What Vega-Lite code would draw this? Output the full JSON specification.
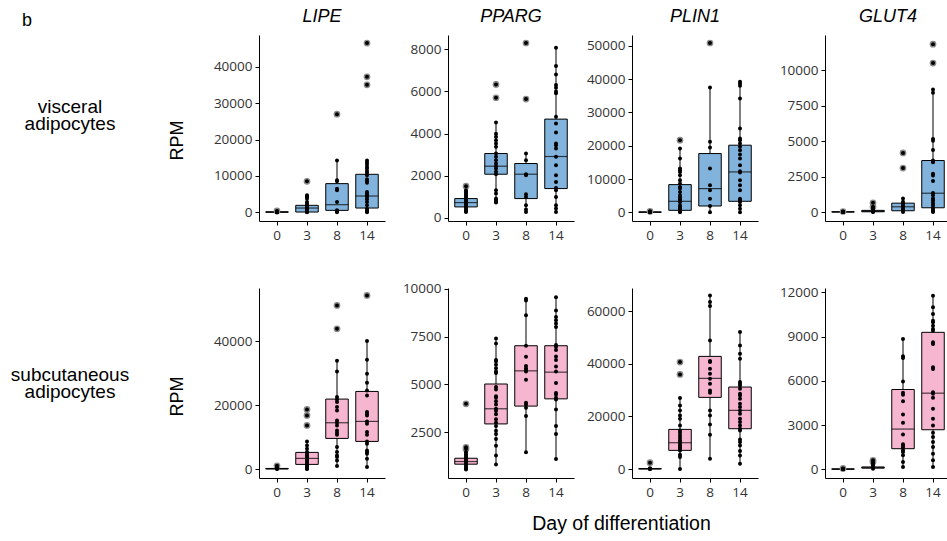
{
"$schema": "https://vega.github.io/schema/vega-lite/v6.json",
"background": "white",
"padding": {"left": 0, "top": 8, "right": 0, "bottom": 4},
"config": {
 "view": {"stroke": null},
 "axis": {"grid": false, "domainColor": "black", "domainWidth": 1, "tickColor": "black", "tickWidth": 1, "tickSize": 4, "labelFont": "Open Sans", "labelFontSize": 13.5, "labelColor": "#333333", "labelPadding": 3, "titleFont": "Liberation Sans", "titleFontSize": 18, "titleFontWeight": "normal", "titleColor": "black"},
 "title": {"font": "Liberation Sans", "fontSize": 18, "fontWeight": "normal", "fontStyle": "italic", "color": "black", "offset": 9, "frame": "group"}
},
"datasets": {
 "box": [
  {"p":"Lv","d":0,"lo":0,"q1":40,"md":90,"q3":150,"hi":250},
  {"p":"Lv","d":3,"lo":0,"q1":90,"md":1190,"q3":1930,"hi":4680},
  {"p":"Lv","d":8,"lo":0,"q1":550,"md":2110,"q3":7890,"hi":14210},
  {"p":"Lv","d":14,"lo":0,"q1":1190,"md":4490,"q3":10450,"hi":14210},
  {"p":"Pv","d":0,"lo":285,"q1":523,"md":729,"q3":919,"hi":1315},
  {"p":"Pv","d":3,"lo":729,"q1":2075,"md":2455,"q3":3057,"hi":4530},
  {"p":"Pv","d":8,"lo":285,"q1":919,"md":2075,"q3":2582,"hi":3057},
  {"p":"Pv","d":14,"lo":285,"q1":1394,"md":2915,"q3":4689,"hi":8078},
  {"p":"Nv","d":0,"lo":0,"q1":20,"md":60,"q3":120,"hi":200},
  {"p":"Nv","d":3,"lo":0,"q1":601,"md":3307,"q3":8317,"hi":19138},
  {"p":"Nv","d":8,"lo":0,"q1":1904,"md":7114,"q3":17635,"hi":37475},
  {"p":"Nv","d":14,"lo":0,"q1":3307,"md":12124,"q3":20140,"hi":39178},
  {"p":"Gv","d":0,"lo":0,"q1":5,"md":10,"q3":20,"hi":30},
  {"p":"Gv","d":3,"lo":0,"q1":20,"md":50,"q3":120,"hi":250},
  {"p":"Gv","d":8,"lo":0,"q1":93,"md":373,"q3":629,"hi":956},
  {"p":"Gv","d":14,"lo":0,"q1":303,"md":1329,"q3":3636,"hi":8648},
  {"p":"Ls","d":0,"lo":0,"q1":50,"md":100,"q3":200,"hi":313},
  {"p":"Ls","d":3,"lo":0,"q1":1462,"md":3342,"q3":5222,"hi":8669},
  {"p":"Ls","d":8,"lo":940,"q1":9608,"md":14517,"q3":21932,"hi":33943},
  {"p":"Ls","d":14,"lo":627,"q1":8669,"md":14935,"q3":24334,"hi":40105},
  {"p":"Ps","d":0,"lo":548,"q1":824,"md":962,"q3":1135,"hi":1446},
  {"p":"Ps","d":3,"lo":807,"q1":2932,"md":3726,"q3":5022,"hi":7408},
  {"p":"Ps","d":8,"lo":1446,"q1":3865,"md":5712,"q3":7026,"hi":9481},
  {"p":"Ps","d":14,"lo":1101,"q1":4245,"md":5643,"q3":7026,"hi":9567},
  {"p":"Ns","d":0,"lo":0,"q1":30,"md":80,"q3":200,"hi":400},
  {"p":"Ns","d":3,"lo":0,"q1":7089,"md":10000,"q3":15063,"hi":26962},
  {"p":"Ns","d":8,"lo":3924,"q1":27215,"md":34430,"q3":42785,"hi":65948},
  {"p":"Ns","d":14,"lo":2025,"q1":15316,"md":22278,"q3":31139,"hi":52025},
  {"p":"Gs","d":0,"lo":0,"q1":5,"md":15,"q3":25,"hi":40},
  {"p":"Gs","d":3,"lo":45,"q1":80,"md":110,"q3":160,"hi":383},
  {"p":"Gs","d":8,"lo":158,"q1":1398,"md":2729,"q3":5414,"hi":8844},
  {"p":"Gs","d":14,"lo":158,"q1":2684,"md":5165,"q3":9293,"hi":11776}
 ],
 "pts": [
  {"p":"Lv","d":0,"v":0},{"p":"Lv","d":0,"v":20},{"p":"Lv","d":0,"v":50},{"p":"Lv","d":0,"v":80},{"p":"Lv","d":0,"v":120},{"p":"Lv","d":0,"v":150},{"p":"Lv","d":0,"v":200},{"p":"Lv","d":0,"v":250},{"p":"Lv","d":0,"v":400,"o":1},
  {"p":"Lv","d":3,"v":4677},{"p":"Lv","d":3,"v":4400},{"p":"Lv","d":3,"v":4218},{"p":"Lv","d":3,"v":3760},{"p":"Lv","d":3,"v":2843},{"p":"Lv","d":3,"v":2400},{"p":"Lv","d":3,"v":1926},{"p":"Lv","d":3,"v":1467},{"p":"Lv","d":3,"v":1200},{"p":"Lv","d":3,"v":1009},{"p":"Lv","d":3,"v":700},{"p":"Lv","d":3,"v":550},{"p":"Lv","d":3,"v":275},{"p":"Lv","d":3,"v":92},{"p":"Lv","d":3,"v":0},{"p":"Lv","d":3,"v":8528,"o":1},
  {"p":"Lv","d":8,"v":14214},{"p":"Lv","d":8,"v":8803},{"p":"Lv","d":8,"v":8528},{"p":"Lv","d":8,"v":6511},{"p":"Lv","d":8,"v":6052},{"p":"Lv","d":8,"v":2843},{"p":"Lv","d":8,"v":550},{"p":"Lv","d":8,"v":275},{"p":"Lv","d":8,"v":0},{"p":"Lv","d":8,"v":26960,"o":1},
  {"p":"Lv","d":14,"v":14214},{"p":"Lv","d":14,"v":13663},{"p":"Lv","d":14,"v":13113},{"p":"Lv","d":14,"v":12471},{"p":"Lv","d":14,"v":12013},{"p":"Lv","d":14,"v":11371},{"p":"Lv","d":14,"v":10912},{"p":"Lv","d":14,"v":10179},{"p":"Lv","d":14,"v":9079},{"p":"Lv","d":14,"v":8528},{"p":"Lv","d":14,"v":8161},{"p":"Lv","d":14,"v":5594},{"p":"Lv","d":14,"v":5135},{"p":"Lv","d":14,"v":4677},{"p":"Lv","d":14,"v":4218},{"p":"Lv","d":14,"v":3576},{"p":"Lv","d":14,"v":2843},{"p":"Lv","d":14,"v":1926},{"p":"Lv","d":14,"v":1009},{"p":"Lv","d":14,"v":550},{"p":"Lv","d":14,"v":275},{"p":"Lv","d":14,"v":0},{"p":"Lv","d":14,"v":46492,"o":1},{"p":"Lv","d":14,"v":37230,"o":1},{"p":"Lv","d":14,"v":35030,"o":1},
  {"p":"Pv","d":0,"v":1315},{"p":"Pv","d":0,"v":1236},{"p":"Pv","d":0,"v":1156},{"p":"Pv","d":0,"v":1077},{"p":"Pv","d":0,"v":998},{"p":"Pv","d":0,"v":919},{"p":"Pv","d":0,"v":840},{"p":"Pv","d":0,"v":760},{"p":"Pv","d":0,"v":729},{"p":"Pv","d":0,"v":681},{"p":"Pv","d":0,"v":602},{"p":"Pv","d":0,"v":523},{"p":"Pv","d":0,"v":444},{"p":"Pv","d":0,"v":364},{"p":"Pv","d":0,"v":317},{"p":"Pv","d":0,"v":285},{"p":"Pv","d":0,"v":1505,"o":1},
  {"p":"Pv","d":3,"v":4530},{"p":"Pv","d":3,"v":3992},{"p":"Pv","d":3,"v":3849},{"p":"Pv","d":3,"v":3691},{"p":"Pv","d":3,"v":3532},{"p":"Pv","d":3,"v":3374},{"p":"Pv","d":3,"v":3057},{"p":"Pv","d":3,"v":2899},{"p":"Pv","d":3,"v":2740},{"p":"Pv","d":3,"v":2582},{"p":"Pv","d":3,"v":2455},{"p":"Pv","d":3,"v":2344},{"p":"Pv","d":3,"v":2186},{"p":"Pv","d":3,"v":2075},{"p":"Pv","d":3,"v":1315},{"p":"Pv","d":3,"v":1156},{"p":"Pv","d":3,"v":919},{"p":"Pv","d":3,"v":840},{"p":"Pv","d":3,"v":760},{"p":"Pv","d":3,"v":729},{"p":"Pv","d":3,"v":6336,"o":1},{"p":"Pv","d":3,"v":5702,"o":1},
  {"p":"Pv","d":8,"v":3057},{"p":"Pv","d":8,"v":2740},{"p":"Pv","d":8,"v":2075},{"p":"Pv","d":8,"v":2028},{"p":"Pv","d":8,"v":1125},{"p":"Pv","d":8,"v":998},{"p":"Pv","d":8,"v":602},{"p":"Pv","d":8,"v":396},{"p":"Pv","d":8,"v":285},{"p":"Pv","d":8,"v":8300,"o":1},{"p":"Pv","d":8,"v":5639,"o":1},
  {"p":"Pv","d":14,"v":8078},{"p":"Pv","d":14,"v":7207},{"p":"Pv","d":14,"v":6811},{"p":"Pv","d":14,"v":6304},{"p":"Pv","d":14,"v":6178},{"p":"Pv","d":14,"v":5997},{"p":"Pv","d":14,"v":5918},{"p":"Pv","d":14,"v":4800},{"p":"Pv","d":14,"v":4483},{"p":"Pv","d":14,"v":4055},{"p":"Pv","d":14,"v":3532},{"p":"Pv","d":14,"v":3453},{"p":"Pv","d":14,"v":3295},{"p":"Pv","d":14,"v":2899},{"p":"Pv","d":14,"v":2503},{"p":"Pv","d":14,"v":2028},{"p":"Pv","d":14,"v":1711},{"p":"Pv","d":14,"v":1426},{"p":"Pv","d":14,"v":1315},{"p":"Pv","d":14,"v":998},{"p":"Pv","d":14,"v":602},{"p":"Pv","d":14,"v":444},{"p":"Pv","d":14,"v":285},
  {"p":"Nv","d":0,"v":0},{"p":"Nv","d":0,"v":50},{"p":"Nv","d":0,"v":100},{"p":"Nv","d":0,"v":150},{"p":"Nv","d":0,"v":200},{"p":"Nv","d":0,"v":300,"o":1},
  {"p":"Nv","d":3,"v":19138},{"p":"Nv","d":3,"v":16132},{"p":"Nv","d":3,"v":13126},{"p":"Nv","d":3,"v":12625},{"p":"Nv","d":3,"v":12124},{"p":"Nv","d":3,"v":11122},{"p":"Nv","d":3,"v":9619},{"p":"Nv","d":3,"v":8617},{"p":"Nv","d":3,"v":7615},{"p":"Nv","d":3,"v":7114},{"p":"Nv","d":3,"v":6112},{"p":"Nv","d":3,"v":5110},{"p":"Nv","d":3,"v":4609},{"p":"Nv","d":3,"v":4108},{"p":"Nv","d":3,"v":3607},{"p":"Nv","d":3,"v":3106},{"p":"Nv","d":3,"v":2104},{"p":"Nv","d":3,"v":1603},{"p":"Nv","d":3,"v":1102},{"p":"Nv","d":3,"v":601},{"p":"Nv","d":3,"v":301},{"p":"Nv","d":3,"v":0},{"p":"Nv","d":3,"v":21643,"o":1},
  {"p":"Nv","d":8,"v":37475},{"p":"Nv","d":8,"v":21142},{"p":"Nv","d":8,"v":19439},{"p":"Nv","d":8,"v":13126},{"p":"Nv","d":8,"v":8116},{"p":"Nv","d":8,"v":6613},{"p":"Nv","d":8,"v":4108},{"p":"Nv","d":8,"v":1904},{"p":"Nv","d":8,"v":0},{"p":"Nv","d":8,"v":50801,"o":1},
  {"p":"Nv","d":14,"v":39178},{"p":"Nv","d":14,"v":38677},{"p":"Nv","d":14,"v":37976},{"p":"Nv","d":14,"v":34168},{"p":"Nv","d":14,"v":25150},{"p":"Nv","d":14,"v":22144},{"p":"Nv","d":14,"v":21643},{"p":"Nv","d":14,"v":20641},{"p":"Nv","d":14,"v":19639},{"p":"Nv","d":14,"v":18637},{"p":"Nv","d":14,"v":17335},{"p":"Nv","d":14,"v":16132},{"p":"Nv","d":14,"v":14128},{"p":"Nv","d":14,"v":12325},{"p":"Nv","d":14,"v":11924},{"p":"Nv","d":14,"v":9619},{"p":"Nv","d":14,"v":8116},{"p":"Nv","d":14,"v":6613},{"p":"Nv","d":14,"v":4108},{"p":"Nv","d":14,"v":3607},{"p":"Nv","d":14,"v":3106},{"p":"Nv","d":14,"v":2104},{"p":"Nv","d":14,"v":1102},{"p":"Nv","d":14,"v":0},
  {"p":"Gv","d":0,"v":0},{"p":"Gv","d":0,"v":5},{"p":"Gv","d":0,"v":10},{"p":"Gv","d":0,"v":20},{"p":"Gv","d":0,"v":30},{"p":"Gv","d":0,"v":40,"o":1},
  {"p":"Gv","d":3,"v":250},{"p":"Gv","d":3,"v":186},{"p":"Gv","d":3,"v":140},{"p":"Gv","d":3,"v":70},{"p":"Gv","d":3,"v":30},{"p":"Gv","d":3,"v":0},{"p":"Gv","d":3,"v":653,"o":1},{"p":"Gv","d":3,"v":373,"o":1},
  {"p":"Gv","d":8,"v":956},{"p":"Gv","d":8,"v":723},{"p":"Gv","d":8,"v":606},{"p":"Gv","d":8,"v":490},{"p":"Gv","d":8,"v":373},{"p":"Gv","d":8,"v":256},{"p":"Gv","d":8,"v":140},{"p":"Gv","d":8,"v":0},{"p":"Gv","d":8,"v":4172,"o":1},{"p":"Gv","d":8,"v":3100,"o":1},
  {"p":"Gv","d":14,"v":8648},{"p":"Gv","d":14,"v":8415},{"p":"Gv","d":14,"v":5152},{"p":"Gv","d":14,"v":5035},{"p":"Gv","d":14,"v":4382},{"p":"Gv","d":14,"v":3636},{"p":"Gv","d":14,"v":3520},{"p":"Gv","d":14,"v":2704},{"p":"Gv","d":14,"v":2587},{"p":"Gv","d":14,"v":2191},{"p":"Gv","d":14,"v":1352},{"p":"Gv","d":14,"v":1189},{"p":"Gv","d":14,"v":956},{"p":"Gv","d":14,"v":839},{"p":"Gv","d":14,"v":653},{"p":"Gv","d":14,"v":490},{"p":"Gv","d":14,"v":326},{"p":"Gv","d":14,"v":186},{"p":"Gv","d":14,"v":70},{"p":"Gv","d":14,"v":0},{"p":"Gv","d":14,"v":11841,"o":1},{"p":"Gv","d":14,"v":10513,"o":1},
  {"p":"Ls","d":0,"v":0},{"p":"Ls","d":0,"v":100},{"p":"Ls","d":0,"v":200},{"p":"Ls","d":0,"v":313},{"p":"Ls","d":0,"v":1044,"o":1},
  {"p":"Ls","d":3,"v":8669},{"p":"Ls","d":3,"v":7415},{"p":"Ls","d":3,"v":6371},{"p":"Ls","d":3,"v":5326},{"p":"Ls","d":3,"v":4804},{"p":"Ls","d":3,"v":4282},{"p":"Ls","d":3,"v":3760},{"p":"Ls","d":3,"v":3238},{"p":"Ls","d":3,"v":2715},{"p":"Ls","d":3,"v":2193},{"p":"Ls","d":3,"v":1671},{"p":"Ls","d":3,"v":1149},{"p":"Ls","d":3,"v":627},{"p":"Ls","d":3,"v":104},{"p":"Ls","d":3,"v":0},{"p":"Ls","d":3,"v":18695,"o":1},{"p":"Ls","d":3,"v":16815,"o":1},{"p":"Ls","d":3,"v":13682,"o":1},
  {"p":"Ls","d":8,"v":33943},{"p":"Ls","d":8,"v":30601},{"p":"Ls","d":8,"v":22559},{"p":"Ls","d":8,"v":21828},{"p":"Ls","d":8,"v":20992},{"p":"Ls","d":8,"v":19426},{"p":"Ls","d":8,"v":18381},{"p":"Ls","d":8,"v":15248},{"p":"Ls","d":8,"v":14517},{"p":"Ls","d":8,"v":13682},{"p":"Ls","d":8,"v":12115},{"p":"Ls","d":8,"v":11384},{"p":"Ls","d":8,"v":10757},{"p":"Ls","d":8,"v":6893},{"p":"Ls","d":8,"v":5326},{"p":"Ls","d":8,"v":4282},{"p":"Ls","d":8,"v":3760},{"p":"Ls","d":8,"v":2715},{"p":"Ls","d":8,"v":940},{"p":"Ls","d":8,"v":51280,"o":1},{"p":"Ls","d":8,"v":43969,"o":1},
  {"p":"Ls","d":14,"v":40105},{"p":"Ls","d":14,"v":34256},{"p":"Ls","d":14,"v":29870},{"p":"Ls","d":14,"v":27050},{"p":"Ls","d":14,"v":24648},{"p":"Ls","d":14,"v":23081},{"p":"Ls","d":14,"v":17859},{"p":"Ls","d":14,"v":17337},{"p":"Ls","d":14,"v":16815},{"p":"Ls","d":14,"v":14935},{"p":"Ls","d":14,"v":14204},{"p":"Ls","d":14,"v":11593},{"p":"Ls","d":14,"v":10757},{"p":"Ls","d":14,"v":8669},{"p":"Ls","d":14,"v":7937},{"p":"Ls","d":14,"v":5849},{"p":"Ls","d":14,"v":5326},{"p":"Ls","d":14,"v":4804},{"p":"Ls","d":14,"v":3238},{"p":"Ls","d":14,"v":627},{"p":"Ls","d":14,"v":54413,"o":1},
  {"p":"Ps","d":0,"v":1446},{"p":"Ps","d":0,"v":1360},{"p":"Ps","d":0,"v":1274},{"p":"Ps","d":0,"v":1187},{"p":"Ps","d":0,"v":1101},{"p":"Ps","d":0,"v":1014},{"p":"Ps","d":0,"v":962},{"p":"Ps","d":0,"v":928},{"p":"Ps","d":0,"v":842},{"p":"Ps","d":0,"v":755},{"p":"Ps","d":0,"v":669},{"p":"Ps","d":0,"v":582},{"p":"Ps","d":0,"v":548},{"p":"Ps","d":0,"v":3987,"o":1},{"p":"Ps","d":0,"v":1706,"o":1},{"p":"Ps","d":0,"v":1619,"o":1},
  {"p":"Ps","d":3,"v":7408},{"p":"Ps","d":3,"v":7149},{"p":"Ps","d":3,"v":6285},{"p":"Ps","d":3,"v":6199},{"p":"Ps","d":3,"v":6026},{"p":"Ps","d":3,"v":5853},{"p":"Ps","d":3,"v":5680},{"p":"Ps","d":3,"v":5594},{"p":"Ps","d":3,"v":4870},{"p":"Ps","d":3,"v":4729},{"p":"Ps","d":3,"v":4384},{"p":"Ps","d":3,"v":4297},{"p":"Ps","d":3,"v":4124},{"p":"Ps","d":3,"v":3952},{"p":"Ps","d":3,"v":3727},{"p":"Ps","d":3,"v":3606},{"p":"Ps","d":3,"v":3434},{"p":"Ps","d":3,"v":3174},{"p":"Ps","d":3,"v":3002},{"p":"Ps","d":3,"v":2829},{"p":"Ps","d":3,"v":2570},{"p":"Ps","d":3,"v":2398},{"p":"Ps","d":3,"v":2138},{"p":"Ps","d":3,"v":1793},{"p":"Ps","d":3,"v":1274},{"p":"Ps","d":3,"v":807},
  {"p":"Ps","d":8,"v":9481},{"p":"Ps","d":8,"v":9395},{"p":"Ps","d":8,"v":8617},{"p":"Ps","d":8,"v":7024},{"p":"Ps","d":8,"v":6454},{"p":"Ps","d":8,"v":5970},{"p":"Ps","d":8,"v":5853},{"p":"Ps","d":8,"v":5766},{"p":"Ps","d":8,"v":5680},{"p":"Ps","d":8,"v":5248},{"p":"Ps","d":8,"v":4038},{"p":"Ps","d":8,"v":3952},{"p":"Ps","d":8,"v":3779},{"p":"Ps","d":8,"v":3347},{"p":"Ps","d":8,"v":1446},
  {"p":"Ps","d":14,"v":9567},{"p":"Ps","d":14,"v":8876},{"p":"Ps","d":14,"v":8531},{"p":"Ps","d":14,"v":8358},{"p":"Ps","d":14,"v":8185},{"p":"Ps","d":14,"v":8012},{"p":"Ps","d":14,"v":7062},{"p":"Ps","d":14,"v":6975},{"p":"Ps","d":14,"v":6802},{"p":"Ps","d":14,"v":6457},{"p":"Ps","d":14,"v":6285},{"p":"Ps","d":14,"v":5939},{"p":"Ps","d":14,"v":5680},{"p":"Ps","d":14,"v":5075},{"p":"Ps","d":14,"v":4557},{"p":"Ps","d":14,"v":4470},{"p":"Ps","d":14,"v":4298},{"p":"Ps","d":14,"v":4211},{"p":"Ps","d":14,"v":3693},{"p":"Ps","d":14,"v":2829},{"p":"Ps","d":14,"v":2398},{"p":"Ps","d":14,"v":1101},
  {"p":"Ns","d":0,"v":0},{"p":"Ns","d":0,"v":50},{"p":"Ns","d":0,"v":150},{"p":"Ns","d":0,"v":300},{"p":"Ns","d":0,"v":2405,"o":1},
  {"p":"Ns","d":3,"v":26962},{"p":"Ns","d":3,"v":24177},{"p":"Ns","d":3,"v":22278},{"p":"Ns","d":3,"v":20380},{"p":"Ns","d":3,"v":19114},{"p":"Ns","d":3,"v":16582},{"p":"Ns","d":3,"v":14684},{"p":"Ns","d":3,"v":13797},{"p":"Ns","d":3,"v":12785},{"p":"Ns","d":3,"v":11772},{"p":"Ns","d":3,"v":10886},{"p":"Ns","d":3,"v":10253},{"p":"Ns","d":3,"v":9620},{"p":"Ns","d":3,"v":8987},{"p":"Ns","d":3,"v":8354},{"p":"Ns","d":3,"v":7721},{"p":"Ns","d":3,"v":7088},{"p":"Ns","d":3,"v":5443},{"p":"Ns","d":3,"v":4557},{"p":"Ns","d":3,"v":0},{"p":"Ns","d":3,"v":40632,"o":1},{"p":"Ns","d":3,"v":35949,"o":1},
  {"p":"Ns","d":8,"v":65948},{"p":"Ns","d":8,"v":63417},{"p":"Ns","d":8,"v":61898},{"p":"Ns","d":8,"v":48860},{"p":"Ns","d":8,"v":41012},{"p":"Ns","d":8,"v":40632},{"p":"Ns","d":8,"v":38101},{"p":"Ns","d":8,"v":36202},{"p":"Ns","d":8,"v":34304},{"p":"Ns","d":8,"v":32405},{"p":"Ns","d":8,"v":29873},{"p":"Ns","d":8,"v":28987},{"p":"Ns","d":8,"v":22278},{"p":"Ns","d":8,"v":20380},{"p":"Ns","d":8,"v":16962},{"p":"Ns","d":8,"v":13038},{"p":"Ns","d":8,"v":3924},
  {"p":"Ns","d":14,"v":52025},{"p":"Ns","d":14,"v":46962},{"p":"Ns","d":14,"v":43797},{"p":"Ns","d":14,"v":41899},{"p":"Ns","d":14,"v":33038},{"p":"Ns","d":14,"v":32405},{"p":"Ns","d":14,"v":31772},{"p":"Ns","d":14,"v":30506},{"p":"Ns","d":14,"v":28608},{"p":"Ns","d":14,"v":27975},{"p":"Ns","d":14,"v":26709},{"p":"Ns","d":14,"v":24810},{"p":"Ns","d":14,"v":23544},{"p":"Ns","d":14,"v":22278},{"p":"Ns","d":14,"v":21013},{"p":"Ns","d":14,"v":19114},{"p":"Ns","d":14,"v":17848},{"p":"Ns","d":14,"v":16582},{"p":"Ns","d":14,"v":15316},{"p":"Ns","d":14,"v":14684},{"p":"Ns","d":14,"v":11266},{"p":"Ns","d":14,"v":10253},{"p":"Ns","d":14,"v":8987},{"p":"Ns","d":14,"v":6835},{"p":"Ns","d":14,"v":5190},{"p":"Ns","d":14,"v":2025},
  {"p":"Gs","d":0,"v":0},{"p":"Gs","d":0,"v":10},{"p":"Gs","d":0,"v":20},{"p":"Gs","d":0,"v":40},{"p":"Gs","d":0,"v":60,"o":1},
  {"p":"Gs","d":3,"v":383},{"p":"Gs","d":3,"v":271},{"p":"Gs","d":3,"v":158},{"p":"Gs","d":3,"v":45},{"p":"Gs","d":3,"v":609,"o":1},{"p":"Gs","d":3,"v":496,"o":1},
  {"p":"Gs","d":8,"v":8844},{"p":"Gs","d":8,"v":7670},{"p":"Gs","d":8,"v":7558},{"p":"Gs","d":8,"v":5956},{"p":"Gs","d":8,"v":5189},{"p":"Gs","d":8,"v":5053},{"p":"Gs","d":8,"v":4625},{"p":"Gs","d":8,"v":3722},{"p":"Gs","d":8,"v":3158},{"p":"Gs","d":8,"v":2369},{"p":"Gs","d":8,"v":1692},{"p":"Gs","d":8,"v":1579},{"p":"Gs","d":8,"v":1466},{"p":"Gs","d":8,"v":1286},{"p":"Gs","d":8,"v":1173},{"p":"Gs","d":8,"v":948},{"p":"Gs","d":8,"v":496},{"p":"Gs","d":8,"v":158},
  {"p":"Gs","d":14,"v":11776},{"p":"Gs","d":14,"v":10987},{"p":"Gs","d":14,"v":10536},{"p":"Gs","d":14,"v":10084},{"p":"Gs","d":14,"v":9971},{"p":"Gs","d":14,"v":9746},{"p":"Gs","d":14,"v":9520},{"p":"Gs","d":14,"v":9407},{"p":"Gs","d":14,"v":8618},{"p":"Gs","d":14,"v":8505},{"p":"Gs","d":14,"v":6926},{"p":"Gs","d":14,"v":6813},{"p":"Gs","d":14,"v":5234},{"p":"Gs","d":14,"v":5121},{"p":"Gs","d":14,"v":4850},{"p":"Gs","d":14,"v":4106},{"p":"Gs","d":14,"v":3429},{"p":"Gs","d":14,"v":2978},{"p":"Gs","d":14,"v":2482},{"p":"Gs","d":14,"v":2188},{"p":"Gs","d":14,"v":1850},{"p":"Gs","d":14,"v":1511},{"p":"Gs","d":14,"v":1060},{"p":"Gs","d":14,"v":609},{"p":"Gs","d":14,"v":158}
 ]
},
"title": {"text": "Day of differentiation", "orient": "bottom", "anchor": "middle", "frame": "bounds", "fontStyle": "normal", "fontSize": 19.5, "dx": 146, "offset": 16},
"concat": [
 {"width": 158, "height": 186, "title": {"text": "b", "anchor": "start", "fontStyle": "normal", "dx": 22, "dy": 4}, "data": {"values": [{"lab": ["visceral", "adipocytes"]}]}, "mark": {"type": "text", "font": "Liberation Sans", "fontSize": 19, "lineHeight": 17, "color": "black", "align": "center", "baseline": "middle", "dx": -9, "dy": -21}, "encoding": {"text": {"field": "lab"}}},
 {"width": 126, "height": 186, "title": {"text": "LIPE"},
  "encoding": {"x": {"field": "d", "type": "ordinal", "scale": {"type": "band", "domain": [0,3,8,14], "paddingInner": 0, "paddingOuter": 0.1}, "axis": {"title": null, "labelAngle": 0}}},
  "layer": [
   {"data": {"name": "box"}, "transform": [{"filter": "datum.p=='Lv'"}], "mark": {"type": "rule", "color": "black", "strokeWidth": 1}, "encoding": {"y": {"field": "lo", "type": "quantitative", "scale": {"domain": [-2370, 48700], "nice": false, "zero": false}, "axis": {"values": [0,10000,20000,30000,40000], "format": "d", "title": "RPM", "minExtent": 44, "titlePadding": 27, "titleY": 105}}, "y2": {"field": "hi"}}},
   {"data": {"name": "box"}, "transform": [{"filter": "datum.p=='Lv'"}], "mark": {"type": "bar", "width": {"band": 0.75}, "fill": "#82b3dc", "stroke": "black", "strokeWidth": 1}, "encoding": {"y": {"field": "q1", "type": "quantitative", "scale": {"domain": [-2370, 48700], "nice": false, "zero": false}, "axis": {"values": [0,10000,20000,30000,40000], "format": "d", "title": "RPM", "minExtent": 44, "titlePadding": 27, "titleY": 105}}, "y2": {"field": "q3"}}},
   {"data": {"name": "box"}, "transform": [{"filter": "datum.p=='Lv'"}], "mark": {"type": "tick", "color": "black", "size": 22.5, "thickness": 1.2}, "encoding": {"y": {"field": "md", "type": "quantitative", "scale": {"domain": [-2370, 48700], "nice": false, "zero": false}, "axis": {"values": [0,10000,20000,30000,40000], "format": "d", "title": "RPM", "minExtent": 44, "titlePadding": 27, "titleY": 105}}}},
   {"data": {"name": "pts"}, "transform": [{"filter": "datum.p=='Lv' && datum.o==1"}], "mark": {"type": "circle", "size": 45, "color": "#8a8a8a", "opacity": 1}, "encoding": {"y": {"field": "v", "type": "quantitative", "scale": {"domain": [-2370, 48700], "nice": false, "zero": false}, "axis": {"values": [0,10000,20000,30000,40000], "format": "d", "title": "RPM", "minExtent": 44, "titlePadding": 27, "titleY": 105}}}},
   {"data": {"name": "pts"}, "transform": [{"filter": "datum.p=='Lv'"}], "mark": {"type": "circle", "size": 16, "color": "black", "opacity": 1}, "encoding": {"y": {"field": "v", "type": "quantitative", "scale": {"domain": [-2370, 48700], "nice": false, "zero": false}, "axis": {"values": [0,10000,20000,30000,40000], "format": "d", "title": "RPM", "minExtent": 44, "titlePadding": 27, "titleY": 105}}}}
  ]},
 {"width": 126, "height": 186, "title": {"text": "PPARG"},
  "encoding": {"x": {"field": "d", "type": "ordinal", "scale": {"type": "band", "domain": [0,3,8,14], "paddingInner": 0, "paddingOuter": 0.1}, "axis": {"title": null, "labelAngle": 0}}},
  "layer": [
   {"data": {"name": "box"}, "transform": [{"filter": "datum.p=='Pv'"}], "mark": {"type": "rule", "color": "black", "strokeWidth": 1}, "encoding": {"y": {"field": "lo", "type": "quantitative", "scale": {"domain": [-145, 8680], "nice": false, "zero": false}, "axis": {"values": [0,2000,4000,6000,8000], "format": "d", "title": null, "minExtent": 53}}, "y2": {"field": "hi"}}},
   {"data": {"name": "box"}, "transform": [{"filter": "datum.p=='Pv'"}], "mark": {"type": "bar", "width": {"band": 0.75}, "fill": "#82b3dc", "stroke": "black", "strokeWidth": 1}, "encoding": {"y": {"field": "q1", "type": "quantitative", "scale": {"domain": [-145, 8680], "nice": false, "zero": false}, "axis": {"values": [0,2000,4000,6000,8000], "format": "d", "title": null, "minExtent": 53}}, "y2": {"field": "q3"}}},
   {"data": {"name": "box"}, "transform": [{"filter": "datum.p=='Pv'"}], "mark": {"type": "tick", "color": "black", "size": 22.5, "thickness": 1.2}, "encoding": {"y": {"field": "md", "type": "quantitative", "scale": {"domain": [-145, 8680], "nice": false, "zero": false}, "axis": {"values": [0,2000,4000,6000,8000], "format": "d", "title": null, "minExtent": 53}}}},
   {"data": {"name": "pts"}, "transform": [{"filter": "datum.p=='Pv' && datum.o==1"}], "mark": {"type": "circle", "size": 45, "color": "#8a8a8a", "opacity": 1}, "encoding": {"y": {"field": "v", "type": "quantitative", "scale": {"domain": [-145, 8680], "nice": false, "zero": false}, "axis": {"values": [0,2000,4000,6000,8000], "format": "d", "title": null, "minExtent": 53}}}},
   {"data": {"name": "pts"}, "transform": [{"filter": "datum.p=='Pv'"}], "mark": {"type": "circle", "size": 16, "color": "black", "opacity": 1}, "encoding": {"y": {"field": "v", "type": "quantitative", "scale": {"domain": [-145, 8680], "nice": false, "zero": false}, "axis": {"values": [0,2000,4000,6000,8000], "format": "d", "title": null, "minExtent": 53}}}}
  ]},
 {"width": 126, "height": 186, "title": {"text": "PLIN1"},
  "encoding": {"x": {"field": "d", "type": "ordinal", "scale": {"type": "band", "domain": [0,3,8,14], "paddingInner": 0, "paddingOuter": 0.1}, "axis": {"title": null, "labelAngle": 0}}},
  "layer": [
   {"data": {"name": "box"}, "transform": [{"filter": "datum.p=='Nv'"}], "mark": {"type": "rule", "color": "black", "strokeWidth": 1}, "encoding": {"y": {"field": "lo", "type": "quantitative", "scale": {"domain": [-2600, 53200], "nice": false, "zero": false}, "axis": {"values": [0,10000,20000,30000,40000,50000], "format": "d", "title": null, "minExtent": 48}}, "y2": {"field": "hi"}}},
   {"data": {"name": "box"}, "transform": [{"filter": "datum.p=='Nv'"}], "mark": {"type": "bar", "width": {"band": 0.75}, "fill": "#82b3dc", "stroke": "black", "strokeWidth": 1}, "encoding": {"y": {"field": "q1", "type": "quantitative", "scale": {"domain": [-2600, 53200], "nice": false, "zero": false}, "axis": {"values": [0,10000,20000,30000,40000,50000], "format": "d", "title": null, "minExtent": 48}}, "y2": {"field": "q3"}}},
   {"data": {"name": "box"}, "transform": [{"filter": "datum.p=='Nv'"}], "mark": {"type": "tick", "color": "black", "size": 22.5, "thickness": 1.2}, "encoding": {"y": {"field": "md", "type": "quantitative", "scale": {"domain": [-2600, 53200], "nice": false, "zero": false}, "axis": {"values": [0,10000,20000,30000,40000,50000], "format": "d", "title": null, "minExtent": 48}}}},
   {"data": {"name": "pts"}, "transform": [{"filter": "datum.p=='Nv' && datum.o==1"}], "mark": {"type": "circle", "size": 45, "color": "#8a8a8a", "opacity": 1}, "encoding": {"y": {"field": "v", "type": "quantitative", "scale": {"domain": [-2600, 53200], "nice": false, "zero": false}, "axis": {"values": [0,10000,20000,30000,40000,50000], "format": "d", "title": null, "minExtent": 48}}}},
   {"data": {"name": "pts"}, "transform": [{"filter": "datum.p=='Nv'"}], "mark": {"type": "circle", "size": 16, "color": "black", "opacity": 1}, "encoding": {"y": {"field": "v", "type": "quantitative", "scale": {"domain": [-2600, 53200], "nice": false, "zero": false}, "axis": {"values": [0,10000,20000,30000,40000,50000], "format": "d", "title": null, "minExtent": 48}}}}
  ]},
 {"width": 126, "height": 186, "title": {"text": "GLUT4"},
  "encoding": {"x": {"field": "d", "type": "ordinal", "scale": {"type": "band", "domain": [0,3,8,14], "paddingInner": 0, "paddingOuter": 0.1}, "axis": {"title": null, "labelAngle": 0}}},
  "layer": [
   {"data": {"name": "box"}, "transform": [{"filter": "datum.p=='Gv'"}], "mark": {"type": "rule", "color": "black", "strokeWidth": 1}, "encoding": {"y": {"field": "lo", "type": "quantitative", "scale": {"domain": [-630, 12490], "nice": false, "zero": false}, "axis": {"values": [0,2500,5000,7500,10000], "format": "d", "title": null, "minExtent": 57}}, "y2": {"field": "hi"}}},
   {"data": {"name": "box"}, "transform": [{"filter": "datum.p=='Gv'"}], "mark": {"type": "bar", "width": {"band": 0.75}, "fill": "#82b3dc", "stroke": "black", "strokeWidth": 1}, "encoding": {"y": {"field": "q1", "type": "quantitative", "scale": {"domain": [-630, 12490], "nice": false, "zero": false}, "axis": {"values": [0,2500,5000,7500,10000], "format": "d", "title": null, "minExtent": 57}}, "y2": {"field": "q3"}}},
   {"data": {"name": "box"}, "transform": [{"filter": "datum.p=='Gv'"}], "mark": {"type": "tick", "color": "black", "size": 22.5, "thickness": 1.2}, "encoding": {"y": {"field": "md", "type": "quantitative", "scale": {"domain": [-630, 12490], "nice": false, "zero": false}, "axis": {"values": [0,2500,5000,7500,10000], "format": "d", "title": null, "minExtent": 57}}}},
   {"data": {"name": "pts"}, "transform": [{"filter": "datum.p=='Gv' && datum.o==1"}], "mark": {"type": "circle", "size": 45, "color": "#8a8a8a", "opacity": 1}, "encoding": {"y": {"field": "v", "type": "quantitative", "scale": {"domain": [-630, 12490], "nice": false, "zero": false}, "axis": {"values": [0,2500,5000,7500,10000], "format": "d", "title": null, "minExtent": 57}}}},
   {"data": {"name": "pts"}, "transform": [{"filter": "datum.p=='Gv'"}], "mark": {"type": "circle", "size": 16, "color": "black", "opacity": 1}, "encoding": {"y": {"field": "v", "type": "quantitative", "scale": {"domain": [-630, 12490], "nice": false, "zero": false}, "axis": {"values": [0,2500,5000,7500,10000], "format": "d", "title": null, "minExtent": 57}}}}
  ]},
 {"width": 158, "height": 190, "data": {"values": [{"lab": ["subcutaneous", "adipocytes"]}]}, "mark": {"type": "text", "font": "Liberation Sans", "fontSize": 19, "lineHeight": 17, "color": "black", "align": "center", "baseline": "middle", "dx": -9, "dy": -8}, "encoding": {"text": {"field": "lab"}}},
 {"width": 126, "height": 190,
  "encoding": {"x": {"field": "d", "type": "ordinal", "scale": {"type": "band", "domain": [0,3,8,14], "paddingInner": 0, "paddingOuter": 0.1}, "axis": {"title": null, "labelAngle": 0}}},
  "layer": [
   {"data": {"name": "box"}, "transform": [{"filter": "datum.p=='Ls'"}], "mark": {"type": "rule", "color": "black", "strokeWidth": 1}, "encoding": {"y": {"field": "lo", "type": "quantitative", "scale": {"domain": [-2800, 56750], "nice": false, "zero": false}, "axis": {"values": [0,20000,40000], "format": "d", "title": "RPM", "minExtent": 44, "titlePadding": 27, "titleY": 108}}, "y2": {"field": "hi"}}},
   {"data": {"name": "box"}, "transform": [{"filter": "datum.p=='Ls'"}], "mark": {"type": "bar", "width": {"band": 0.75}, "fill": "#f6b6cf", "stroke": "black", "strokeWidth": 1}, "encoding": {"y": {"field": "q1", "type": "quantitative", "scale": {"domain": [-2800, 56750], "nice": false, "zero": false}, "axis": {"values": [0,20000,40000], "format": "d", "title": "RPM", "minExtent": 44, "titlePadding": 27, "titleY": 108}}, "y2": {"field": "q3"}}},
   {"data": {"name": "box"}, "transform": [{"filter": "datum.p=='Ls'"}], "mark": {"type": "tick", "color": "black", "size": 22.5, "thickness": 1.2}, "encoding": {"y": {"field": "md", "type": "quantitative", "scale": {"domain": [-2800, 56750], "nice": false, "zero": false}, "axis": {"values": [0,20000,40000], "format": "d", "title": "RPM", "minExtent": 44, "titlePadding": 27, "titleY": 108}}}},
   {"data": {"name": "pts"}, "transform": [{"filter": "datum.p=='Ls' && datum.o==1"}], "mark": {"type": "circle", "size": 45, "color": "#8a8a8a", "opacity": 1}, "encoding": {"y": {"field": "v", "type": "quantitative", "scale": {"domain": [-2800, 56750], "nice": false, "zero": false}, "axis": {"values": [0,20000,40000], "format": "d", "title": "RPM", "minExtent": 44, "titlePadding": 27, "titleY": 108}}}},
   {"data": {"name": "pts"}, "transform": [{"filter": "datum.p=='Ls'"}], "mark": {"type": "circle", "size": 16, "color": "black", "opacity": 1}, "encoding": {"y": {"field": "v", "type": "quantitative", "scale": {"domain": [-2800, 56750], "nice": false, "zero": false}, "axis": {"values": [0,20000,40000], "format": "d", "title": "RPM", "minExtent": 44, "titlePadding": 27, "titleY": 108}}}}
  ]},
 {"width": 126, "height": 190,
  "encoding": {"x": {"field": "d", "type": "ordinal", "scale": {"type": "band", "domain": [0,3,8,14], "paddingInner": 0, "paddingOuter": 0.1}, "axis": {"title": null, "labelAngle": 0}}},
  "layer": [
   {"data": {"name": "box"}, "transform": [{"filter": "datum.p=='Ps'"}], "mark": {"type": "rule", "color": "black", "strokeWidth": 1}, "encoding": {"y": {"field": "lo", "type": "quantitative", "scale": {"domain": [100, 10050], "nice": false, "zero": false}, "axis": {"values": [2500,5000,7500,10000], "format": "d", "title": null, "minExtent": 53}}, "y2": {"field": "hi"}}},
   {"data": {"name": "box"}, "transform": [{"filter": "datum.p=='Ps'"}], "mark": {"type": "bar", "width": {"band": 0.75}, "fill": "#f6b6cf", "stroke": "black", "strokeWidth": 1}, "encoding": {"y": {"field": "q1", "type": "quantitative", "scale": {"domain": [100, 10050], "nice": false, "zero": false}, "axis": {"values": [2500,5000,7500,10000], "format": "d", "title": null, "minExtent": 53}}, "y2": {"field": "q3"}}},
   {"data": {"name": "box"}, "transform": [{"filter": "datum.p=='Ps'"}], "mark": {"type": "tick", "color": "black", "size": 22.5, "thickness": 1.2}, "encoding": {"y": {"field": "md", "type": "quantitative", "scale": {"domain": [100, 10050], "nice": false, "zero": false}, "axis": {"values": [2500,5000,7500,10000], "format": "d", "title": null, "minExtent": 53}}}},
   {"data": {"name": "pts"}, "transform": [{"filter": "datum.p=='Ps' && datum.o==1"}], "mark": {"type": "circle", "size": 45, "color": "#8a8a8a", "opacity": 1}, "encoding": {"y": {"field": "v", "type": "quantitative", "scale": {"domain": [100, 10050], "nice": false, "zero": false}, "axis": {"values": [2500,5000,7500,10000], "format": "d", "title": null, "minExtent": 53}}}},
   {"data": {"name": "pts"}, "transform": [{"filter": "datum.p=='Ps'"}], "mark": {"type": "circle", "size": 16, "color": "black", "opacity": 1}, "encoding": {"y": {"field": "v", "type": "quantitative", "scale": {"domain": [100, 10050], "nice": false, "zero": false}, "axis": {"values": [2500,5000,7500,10000], "format": "d", "title": null, "minExtent": 53}}}}
  ]},
 {"width": 126, "height": 190,
  "encoding": {"x": {"field": "d", "type": "ordinal", "scale": {"type": "band", "domain": [0,3,8,14], "paddingInner": 0, "paddingOuter": 0.1}, "axis": {"title": null, "labelAngle": 0}}},
  "layer": [
   {"data": {"name": "box"}, "transform": [{"filter": "datum.p=='Ns'"}], "mark": {"type": "rule", "color": "black", "strokeWidth": 1}, "encoding": {"y": {"field": "lo", "type": "quantitative", "scale": {"domain": [-3400, 68750], "nice": false, "zero": false}, "axis": {"values": [0,20000,40000,60000], "format": "d", "title": null, "minExtent": 48}}, "y2": {"field": "hi"}}},
   {"data": {"name": "box"}, "transform": [{"filter": "datum.p=='Ns'"}], "mark": {"type": "bar", "width": {"band": 0.75}, "fill": "#f6b6cf", "stroke": "black", "strokeWidth": 1}, "encoding": {"y": {"field": "q1", "type": "quantitative", "scale": {"domain": [-3400, 68750], "nice": false, "zero": false}, "axis": {"values": [0,20000,40000,60000], "format": "d", "title": null, "minExtent": 48}}, "y2": {"field": "q3"}}},
   {"data": {"name": "box"}, "transform": [{"filter": "datum.p=='Ns'"}], "mark": {"type": "tick", "color": "black", "size": 22.5, "thickness": 1.2}, "encoding": {"y": {"field": "md", "type": "quantitative", "scale": {"domain": [-3400, 68750], "nice": false, "zero": false}, "axis": {"values": [0,20000,40000,60000], "format": "d", "title": null, "minExtent": 48}}}},
   {"data": {"name": "pts"}, "transform": [{"filter": "datum.p=='Ns' && datum.o==1"}], "mark": {"type": "circle", "size": 45, "color": "#8a8a8a", "opacity": 1}, "encoding": {"y": {"field": "v", "type": "quantitative", "scale": {"domain": [-3400, 68750], "nice": false, "zero": false}, "axis": {"values": [0,20000,40000,60000], "format": "d", "title": null, "minExtent": 48}}}},
   {"data": {"name": "pts"}, "transform": [{"filter": "datum.p=='Ns'"}], "mark": {"type": "circle", "size": 16, "color": "black", "opacity": 1}, "encoding": {"y": {"field": "v", "type": "quantitative", "scale": {"domain": [-3400, 68750], "nice": false, "zero": false}, "axis": {"values": [0,20000,40000,60000], "format": "d", "title": null, "minExtent": 48}}}}
  ]},
 {"width": 126, "height": 190,
  "encoding": {"x": {"field": "d", "type": "ordinal", "scale": {"type": "band", "domain": [0,3,8,14], "paddingInner": 0, "paddingOuter": 0.1}, "axis": {"title": null, "labelAngle": 0}}},
  "layer": [
   {"data": {"name": "box"}, "transform": [{"filter": "datum.p=='Gs'"}], "mark": {"type": "rule", "color": "black", "strokeWidth": 1}, "encoding": {"y": {"field": "lo", "type": "quantitative", "scale": {"domain": [-590, 12300], "nice": false, "zero": false}, "axis": {"values": [0,3000,6000,9000,12000], "format": "d", "title": null, "minExtent": 57}}, "y2": {"field": "hi"}}},
   {"data": {"name": "box"}, "transform": [{"filter": "datum.p=='Gs'"}], "mark": {"type": "bar", "width": {"band": 0.75}, "fill": "#f6b6cf", "stroke": "black", "strokeWidth": 1}, "encoding": {"y": {"field": "q1", "type": "quantitative", "scale": {"domain": [-590, 12300], "nice": false, "zero": false}, "axis": {"values": [0,3000,6000,9000,12000], "format": "d", "title": null, "minExtent": 57}}, "y2": {"field": "q3"}}},
   {"data": {"name": "box"}, "transform": [{"filter": "datum.p=='Gs'"}], "mark": {"type": "tick", "color": "black", "size": 22.5, "thickness": 1.2}, "encoding": {"y": {"field": "md", "type": "quantitative", "scale": {"domain": [-590, 12300], "nice": false, "zero": false}, "axis": {"values": [0,3000,6000,9000,12000], "format": "d", "title": null, "minExtent": 57}}}},
   {"data": {"name": "pts"}, "transform": [{"filter": "datum.p=='Gs' && datum.o==1"}], "mark": {"type": "circle", "size": 45, "color": "#8a8a8a", "opacity": 1}, "encoding": {"y": {"field": "v", "type": "quantitative", "scale": {"domain": [-590, 12300], "nice": false, "zero": false}, "axis": {"values": [0,3000,6000,9000,12000], "format": "d", "title": null, "minExtent": 57}}}},
   {"data": {"name": "pts"}, "transform": [{"filter": "datum.p=='Gs'"}], "mark": {"type": "circle", "size": 16, "color": "black", "opacity": 1}, "encoding": {"y": {"field": "v", "type": "quantitative", "scale": {"domain": [-590, 12300], "nice": false, "zero": false}, "axis": {"values": [0,3000,6000,9000,12000], "format": "d", "title": null, "minExtent": 57}}}}
  ]}
],
"columns": 5,
"spacing": {"row": 39, "column": 10}
}
